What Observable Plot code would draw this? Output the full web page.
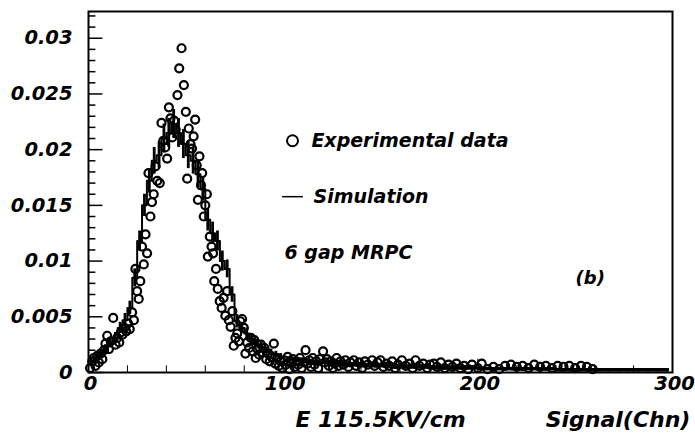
<!DOCTYPE html>
<html>
<head>
<meta charset="utf-8">
<script src="https://cdn.jsdelivr.net/npm/d3@7"></script>
<script src="https://cdn.jsdelivr.net/npm/@observablehq/plot@0.6"></script>
<style>
  html, body { margin: 0; padding: 0; background: white; }
</style>
</head>
<body>
<div id="chart"></div>
<script>
// ---- Experimental data (circles) ----
const expX = [0.8,1.9,2.7,3.6,4.5,5.3,6.2,7.1,8.0,8.7,9.6,10.5,11.4,12.7,13.9,14.8,15.8,16.6,17.5,18.5,19.4,20.3,21.2,22.4,23.3,24.1,25.0,25.8,26.6,27.5,28.4,29.3,30.1,30.8,31.8,32.6,33.5,34.4,35.3,36.6,37.5,38.4,39.4,40.4,41.3,42.1,43.0,44.0,44.8,45.7,46.6,47.8,49.0,50.0,50.7,51.5,52.4,53.2,54.0,54.8,55.6,56.2,57.0,57.8,58.4,59.2,60.0,60.8,61.3,62.3,63.2,64.0,64.6,65.5,66.4,67.4,68.4,69.4,70.3,71.2,72.1,73.0,73.9,74.6,75.5,76.4,77.2,78.0,78.9,79.8,80.6,81.5,82.5,83.4,84.3,85.2,85.9,86.8,87.7,88.6,89.5,90.4,91.3,92.2,93.1,94.0,95.2,96.0,96.9,97.8,98.7,99.6,
  100.5,101.4,102.3,103.2,104.1,105.0,105.9,106.8,107.7,108.6,109.5,110.4,111.5,112.5,113.4,114.3,115.2,116.1,117.0,118.0,119.0,120.5,121.5,122.5,123.5,124.5,125.5,126.5,127.5,128.5,129.5,131,132,133.5,134.5,136.3,137.5,139,140.5,142,143.5,145.7,147,148.5,150,151.5,153,154.5,156,157.5,159,161,163,165,166.5,168,170,172,174,175.5,177.4,179,181,183,185,187,189,191,193,195,197,200,202,205,208,211,214,217,220,223,226,229,232,235,238,241,244,247,250,253,256,259];
const expY = [0.0004,0.0010,0.0013,0.0006,0.0015,0.0009,0.0017,0.0012,0.0020,0.0026,0.0033,0.0021,0.0028,0.0049,0.0025,0.0031,0.0027,0.0036,0.0034,0.0040,0.0037,0.0044,0.0039,0.0054,0.0047,0.0093,0.0073,0.0066,0.0082,0.0113,0.0097,0.0124,0.0107,0.0179,0.0140,0.0153,0.0160,0.0185,0.0172,0.0170,0.0224,0.0208,0.0202,0.0192,0.0238,0.0228,0.0211,0.0226,0.0218,0.0249,0.0273,0.0291,0.0258,0.0234,0.0174,0.0219,0.0205,0.0201,0.0212,0.0227,0.0186,0.0155,0.0194,0.0168,0.0179,0.0140,0.0150,0.0160,0.0104,0.0122,0.0113,0.0107,0.0082,0.0093,0.0075,0.0064,0.0058,0.0067,0.0051,0.0073,0.0047,0.0041,0.0055,0.0024,0.0031,0.0035,0.0028,0.0046,0.0048,0.0040,0.0017,0.0027,0.0022,0.0031,0.0019,0.0029,0.0013,0.0021,0.0016,0.0025,0.0018,0.0022,0.0012,0.0017,0.0010,0.0014,0.0026,0.0008,0.0013,0.0006,0.0010,0.0004,
  0.0011,0.0007,0.0014,0.0003,0.0009,0.0012,0.0005,0.0010,0.0007,0.0013,0.0004,0.0009,0.0020,0.0008,0.0011,0.0005,0.0013,0.0007,0.0010,0.0004,0.0012,0.0019,0.0009,0.0012,0.0006,0.0010,0.0004,0.0008,0.0013,0.0006,0.0010,0.0007,0.0011,0.0005,0.0009,0.0011,0.0006,0.0009,0.0004,0.0010,0.0007,0.0011,0.0006,0.0009,0.0011,0.0005,0.0008,0.0006,0.0010,0.0004,0.0007,0.0011,0.0006,0.0008,0.0004,0.0011,0.0006,0.0008,0.0004,0.0007,0.0008,0.0005,0.0009,0.0004,0.0007,0.0005,0.0008,0.0004,0.0006,0.0003,0.0007,0.0004,0.0008,0.0003,0.0005,0.0003,0.0006,0.0007,0.0005,0.0006,0.0004,0.0007,0.0005,0.0006,0.0004,0.0006,0.0005,0.0006,0.0004,0.0006,0.0005,0.0003];

// ---- Simulation (step histogram with error bars) ----
const simX = [1.25,3.75,6.25,8.75,11.25,13.75,16.25,18.75,21.25,23.75,26.25,28.75,31.25,33.75,36.25,38.75,41.25,43.75,46.25,48.75,51.25,53.75,56.25,58.75,61.25,63.75,66.25,68.75,71.25,73.75,76.25,78.75,81.25,83.75,86.25,88.75,91.25,93.75,96.25,98.75,
  102.5,107.5,112.5,117.5,122.5,127.5,132.5,137.5,142.5,147.5,152.5,157.5,162.5,167.5,172.5,177.5,182.5,187.5,192.5,197.5,202.5,207.5,212.5,217.5,222.5,227.5,232.5,237.5,242.5,247.5,252.5,257.5,262.5,267.5,272.5,277.5,282.5,287.5,292.5,297.5];
const simY = [0.0010,0.0013,0.0017,0.0021,0.0026,0.0031,0.0040,0.0047,0.0058,0.0085,0.0118,0.0150,0.0172,0.0190,0.0195,0.0210,0.0215,0.0223,0.0215,0.0205,0.0195,0.0190,0.0178,0.0165,0.0137,0.0125,0.0118,0.0100,0.0093,0.0070,0.0046,0.0040,0.0035,0.0030,0.0026,0.0023,0.0020,0.0018,0.0016,0.0014,
  0.0012,0.0011,0.0010,0.0009,0.0009,0.0008,0.0007,0.0007,0.0006,0.0006,0.0006,0.0005,0.0005,0.0005,0.0005,0.0004,0.0004,0.0004,0.0004,0.0004,0.0003,0.0003,0.0003,0.0003,0.0003,0.0003,0.0003,0.0003,0.0002,0.0002,0.0002,0.0002,0.0002,0.0002,0.0002,0.0002,0.0002,0.0002,0.0002,0.0002];
const simErr = [0.0003,0.0003,0.0004,0.0004,0.0004,0.0005,0.0005,0.0006,0.0006,0.0008,0.0009,0.0010,0.0011,0.0012,0.0012,0.0013,0.0013,0.0013,0.0013,0.0013,0.0012,0.0012,0.0012,0.0011,0.0010,0.0010,0.0009,0.0009,0.0008,0.0007,0.0006,0.0005,0.0005,0.0004,0.0004,0.0004,0.0003,0.0003,0.0003,0.0003,
  0.0002,0.0002,0.0002,0.0002,0.0002,0.0002,0.0002,0.0002,0.0002,0.0002,0.0002,0.0002,0.0002,0.0002,0.0002,0.0002,0.0002,0.0002,0.0002,0.0002,0.00015,0.00015,0.00015,0.00015,0.00015,0.00015,0.00015,0.00015,0.00015,0.00015,0.00015,0.00015,0.00015,0.00015,0.00015,0.00015,0.00015,0.00015,0.00015,0.00015];

// ---- Ticks ----
const yTicks = [0, 0.005, 0.01, 0.015, 0.02, 0.025, 0.03];
const yTickLabels = ["0", "0.005", "0.01", "0.015", "0.02", "0.025", "0.03"];
const yMinorTicks = [0.001,0.002,0.003,0.004,0.006,0.007,0.008,0.009,0.011,0.012,0.013,0.014,0.016,0.017,0.018,0.019,0.021,0.022,0.023,0.024,0.026,0.027,0.028,0.029,0.031,0.032];
const xTicks = [0, 100, 200, 300];
const xTickLabels = ["0", "100", "200", "300"];
const xMinorTicks = [20, 40, 60, 80, 120, 140, 160, 180, 220, 240, 260, 280];

// ---- Texts ----
const legendExp = "Experimental data";
const legendSim = "Simulation";
const noteText = "6 gap MRPC";
const panelText = "(b)";
const xTitleLeft = "E 115.5KV/cm";
const xTitleRight = "Signal(Chn)";

const expData = expX.map((x, i) => ({x, y: expY[i]}));
const simData = simX.map((x, i) => ({x, y: simY[i], lo: simY[i] - simErr[i], hi: simY[i] + simErr[i]}));
const simTail = simData.filter(d => d.x > 100);
const yLab = new Map(yTicks.map((t, i) => [t, yTickLabels[i]]));
const xLab = new Map(xTicks.map((t, i) => [t, xTickLabels[i]]));

const chart = Plot.plot({
  width: 695,
  height: 439,
  marginLeft: 88,
  marginRight: 23,
  marginTop: 11,
  marginBottom: 67,
  x: {domain: [0, 300]},
  y: {domain: [0, 0.0324]},
  style: {
    fontFamily: "'DejaVu Sans', sans-serif",
    fontWeight: "bold",
    fontStyle: "italic",
    background: "white",
    color: "black",
    fontSize: "19.5px"
  },
  marks: [
    // axes (labels only)
    Plot.axisY(yTicks, {tickSize: 0, tickPadding: 16, tickFormat: d => yLab.get(d), label: null, fontSize: 19.5}),
    Plot.axisX(xTicks, {tickSize: 0, tickPadding: 4, tickFormat: d => xLab.get(d), label: null, fontSize: 19.5, dx: 2}),
    // inward tick marks
    Plot.ruleY(yTicks, {x1: 0, x2: 7.4, stroke: "black", strokeWidth: 1.5}),
    Plot.ruleY(yMinorTicks, {x1: 0, x2: 3.8, stroke: "black", strokeWidth: 1.5}),
    Plot.ruleX(xMinorTicks, {y1: 0, y2: 0.0006, stroke: "black", strokeWidth: 1}),
    Plot.ruleX(xTicks, {y1: 0, y2: 0.0012, stroke: "black", strokeWidth: 1}),
    // simulation
    Plot.areaY(simTail, {x: "x", y1: "lo", y2: "hi", curve: "step", fill: "black"}),
    Plot.line(simData, {x: "x", y: "y", curve: "step", stroke: "black", strokeWidth: 2}),
    Plot.ruleX(simData, {x: "x", y1: "lo", y2: "hi", stroke: "black", strokeWidth: 2.8}),
    // experimental data
    Plot.dot(expData, {x: "x", y: "y", r: 4, stroke: "black", strokeWidth: 2.2, fill: "none"}),
    // legend
    Plot.dot([legendExp], {x: 104.8, y: 0.0208, r: 5.5, stroke: "black", strokeWidth: 2, fill: "none"}),
    Plot.text([legendExp], {x: 114.5, y: 0.0208, textAnchor: "start", fontSize: 19}),
    Plot.ruleY([legendSim], {y: () => 0.01578, x1: 99.7, x2: 110.4, stroke: "black", strokeWidth: 1.5}),
    Plot.text([legendSim], {x: 115.6, y: 0.01578, textAnchor: "start", fontSize: 19}),
    Plot.text([noteText], {x: 100.7, y: 0.01076, textAnchor: "start", fontSize: 19}),
    Plot.text([panelText], {x: 250.2, y: 0.00843, textAnchor: "start", fontSize: 18}),
    // axis titles
    Plot.text([xTitleLeft], {x: 106.3, y: -0.0043, textAnchor: "start", fontSize: 22}),
    Plot.text([xTitleRight], {x: 309.2, y: -0.0043, textAnchor: "end", fontSize: 22}),
    Plot.frame({stroke: "black", strokeWidth: 2})
  ]
});
document.getElementById("chart").appendChild(chart);
</script>
</body>
</html>
